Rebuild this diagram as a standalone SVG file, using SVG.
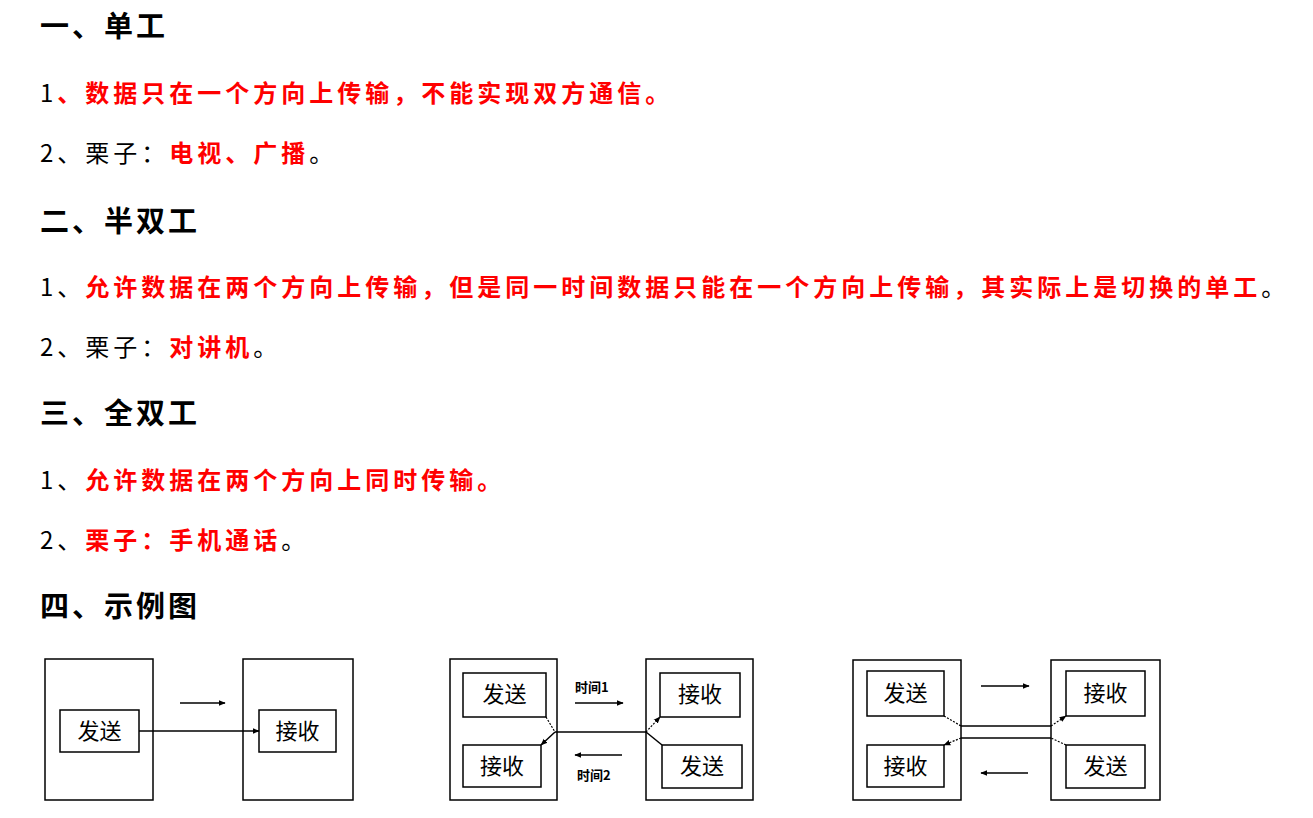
<svg xmlns="http://www.w3.org/2000/svg" width="1313" height="818" viewBox="0 0 1313 818">
<style>
text{font-family:"Noto Sans CJK SC","Liberation Sans",sans-serif;}
.h{font-size:29px;font-weight:bold;fill:#000;letter-spacing:3px}
.b{font-size:24px;fill:#000;letter-spacing:4px}
.r{fill:#f00;font-weight:bold}
.box{fill:#fff;stroke:#000;stroke-width:1.5}
.lb{font-size:22px;fill:#000}
.sm{font-size:13px;fill:#000;font-weight:bold}
.ln{stroke:#000;stroke-width:1.5;fill:none}
.dl{stroke:#000;stroke-width:1.2;fill:none;stroke-dasharray:2 1.5}
</style>
<defs>
<marker id="a" viewBox="0 0 10 10" refX="9" refY="5" markerWidth="7" markerHeight="7" orient="auto-start-reverse" markerUnits="userSpaceOnUse"><path d="M0,1 L10,5 L0,9 z" fill="#000"/></marker>
</defs>
<rect width="1313" height="818" fill="#fff"/>
<text class="h" x="40" y="37">一、单工</text>
<text class="b" x="40" y="102">1<tspan class="r">、数据只在一个方向上传输，不能实现双方通信。</tspan></text>
<text class="b" x="40" y="162">2、栗子：<tspan class="r">电视、广播</tspan>。</text>
<text class="h" x="40" y="232">二、半双工</text>
<text class="b" x="40" y="296">1、<tspan class="r">允许数据在两个方向上传输，但是同一时间数据只能在一个方向上传输，其实际上是切换的单工</tspan>。</text>
<text class="b" x="40" y="356">2、栗子：<tspan class="r">对讲机</tspan>。</text>
<text class="h" x="40" y="424">三、全双工</text>
<text class="b" x="40" y="489">1、<tspan class="r">允许数据在两个方向上同时传输。</tspan></text>
<text class="b" x="40" y="549">2、<tspan class="r">栗子：手机通话</tspan>。</text>
<text class="h" x="40" y="617">四、示例图</text>

<g id="d1-left"><rect class="box" x="45" y="659" width="108" height="141"/></g>
<g id="d1-send"><rect class="box" x="60" y="710" width="79" height="42"/><text class="lb" x="99.5" y="739" text-anchor="middle">发送</text></g>
<g id="d1-right"><rect class="box" x="243" y="659" width="110" height="141"/></g>
<g id="d1-recv"><rect class="box" x="259" y="710" width="77" height="42"/><text class="lb" x="297.5" y="739" text-anchor="middle">接收</text></g>

<g id="d2-left"><rect class="box" x="450" y="659" width="107" height="141"/></g>
<g id="d2-send1"><rect class="box" x="463" y="673" width="83" height="44"/><text class="lb" x="504.5" y="702" text-anchor="middle">发送</text></g>
<g id="d2-recv1"><rect class="box" x="463" y="745" width="78" height="42"/><text class="lb" x="502" y="774" text-anchor="middle">接收</text></g>
<g id="d2-right"><rect class="box" x="646" y="659" width="107" height="141"/></g>
<g id="d2-recv2"><rect class="box" x="660" y="673" width="80" height="44"/><text class="lb" x="700" y="702" text-anchor="middle">接收</text></g>
<g id="d2-send2"><rect class="box" x="662" y="745" width="80" height="43"/><text class="lb" x="702" y="774" text-anchor="middle">发送</text></g>
<text class="sm" x="575" y="692">时间1</text>
<text class="sm" x="577" y="780">时间2</text>

<g id="d3-left"><rect class="box" x="853" y="660" width="108" height="140"/></g>
<g id="d3-send1"><rect class="box" x="867" y="671" width="77" height="45"/><text class="lb" x="905.5" y="701" text-anchor="middle">发送</text></g>
<g id="d3-recv1"><rect class="box" x="867" y="745" width="77" height="42"/><text class="lb" x="905.5" y="774" text-anchor="middle">接收</text></g>
<g id="d3-right"><rect class="box" x="1051" y="660" width="109" height="140"/></g>
<g id="d3-recv2"><rect class="box" x="1066" y="671" width="79" height="45"/><text class="lb" x="1105.5" y="701" text-anchor="middle">接收</text></g>
<g id="d3-send2"><rect class="box" x="1066" y="745" width="79" height="43"/><text class="lb" x="1105.5" y="774" text-anchor="middle">发送</text></g>

<g id="connectors">
<line class="ln" x1="139" y1="731" x2="259" y2="731" marker-end="url(#a)"/>
<line class="ln" x1="180" y1="703" x2="225" y2="703" marker-end="url(#a)"/>

<line class="dl" x1="546" y1="717" x2="555" y2="732"/>
<line class="ln" x1="555" y1="732" x2="646" y2="732"/>
<line class="ln" x1="555" y1="732" x2="541" y2="745" marker-end="url(#a)"/>
<line class="dl" x1="646" y1="732" x2="660" y2="717" marker-end="url(#a)"/>
<line class="ln" x1="646" y1="732" x2="662" y2="745"/>
<line class="ln" x1="575" y1="703" x2="623" y2="703" marker-end="url(#a)"/>
<line class="ln" x1="622" y1="755" x2="575" y2="755" marker-end="url(#a)"/>

<path class="dl" d="M944,716 L961,726"/>
<path class="ln" d="M961,726 H1051"/>
<path class="dl" d="M1051,726 L1066,716" marker-end="url(#a)"/>
<path class="dl" d="M1066,745 L1051,738"/>
<path class="ln" d="M1051,738 H961"/>
<path class="dl" d="M961,738 L944,745" marker-end="url(#a)"/>
<line class="ln" x1="981" y1="686" x2="1029" y2="686" marker-end="url(#a)"/>
<line class="ln" x1="1028" y1="773" x2="981" y2="773" marker-end="url(#a)"/>
</g>
</svg>
